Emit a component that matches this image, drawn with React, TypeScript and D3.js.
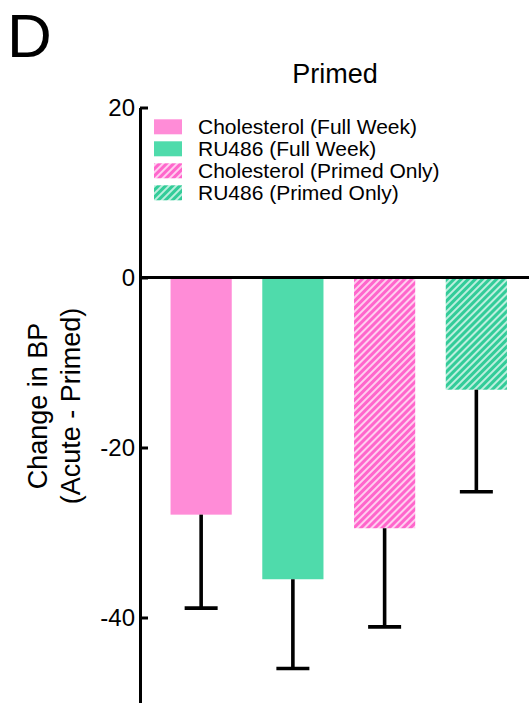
import React from "react";
import * as d3 from "d3";

const categories = [
  "Cholesterol (Full Week)",
  "RU486 (Full Week)",
  "Cholesterol (Primed Only)",
  "RU486 (Primed Only)",
];
const means = [-27.9, -35.5, -29.5, -13.2];
const sems = [11.0, 10.5, 11.6, 12.0];
const hatched = [false, false, true, true];
const tickValues = [20, 0, -20, -40];

const W = 529;
const H = 712;
const FONT = "'Liberation Sans', Arial, Helvetica, sans-serif";
const solidColors = ["#FF8CD7", "#4FDBAB", "#FF8CD7", "#4FDBAB"];
const hatchColors = ["#FF66CC", "#33CC99", "#FF66CC", "#33CC99"];

export default function App() {
  const y = d3.scaleLinear().domain([-50, 20]).range([702.5, 107.5]);
  const x = d3
    .scaleBand<string>()
    .domain(categories)
    .range([140, 537.5])
    .paddingInner(0.333)
    .paddingOuter(0.333);
  const axisRef = React.useRef<SVGGElement>(null);

  React.useEffect(() => {
    if (!axisRef.current) return;
    const g = d3.select(axisRef.current);
    g.selectAll("*").remove();
    g.call(
      d3
        .axisLeft(y)
        .tickValues(tickValues)
        .tickSizeInner(-8)
        .tickSizeOuter(0)
        .tickPadding(5)
        .tickFormat((d) => String(d))
    );
    g.select(".domain").attr("stroke", "#000").attr("stroke-width", 3);
    g.selectAll(".tick line").attr("stroke", "#000").attr("stroke-width", 3);
    g.selectAll(".tick text")
      .attr("fill", "#000")
      .style("font-family", FONT)
      .style("font-size", "24px");
  }, []);

  const patId = (i: number) => `hatch-${i}`;
  const bw = x.bandwidth();
  const capW = 33;

  return (
    <svg
      width={W}
      height={H}
      style={{ position: "absolute", left: 0, top: 0, background: "#fff" }}
    >
      <defs>
        {categories.map((c, i) => (
          <pattern
            key={c}
            id={patId(i)}
            patternUnits="userSpaceOnUse"
            width={5}
            height={5}
            patternTransform="rotate(45)"
          >
            <rect x={0} y={0} width={5} height={5} fill={hatchColors[i]} />
            <line x1={1} y1={-1} x2={1} y2={6} stroke="#fff" strokeOpacity={0.85} strokeWidth={1.6} />
          </pattern>
        ))}
      </defs>
      <rect x={0} y={0} width={W} height={H} fill="#fff" />

      <text x={7} y={56.5} fontFamily={FONT} fontSize={62} fill="#000">
        D
      </text>
      <text x={335} y={82.5} textAnchor="middle" fontFamily={FONT} fontSize={27} fill="#000">
        Primed
      </text>

      <g transform="translate(47,406) rotate(-90)">
        <text x={0} y={0} textAnchor="middle" fontFamily={FONT} fontSize={27} fill="#000">
          Change in BP
        </text>
      </g>
      <g transform="translate(80,406) rotate(-90)">
        <text x={0} y={0} textAnchor="middle" fontFamily={FONT} fontSize={27} fill="#000">
          (Acute - Primed)
        </text>
      </g>

      {categories.map((c, i) => {
        const x0 = x(c)!;
        const y0 = y(0);
        const y1 = y(means[i]);
        return (
          <rect
            key={c}
            x={x0}
            y={Math.min(y0, y1)}
            width={bw}
            height={Math.abs(y1 - y0)}
            fill={hatched[i] ? `url(#${patId(i)})` : solidColors[i]}
          />
        );
      })}

      {categories.map((c, i) => {
        const cx = x(c)! + bw / 2;
        const y1 = y(means[i]);
        const y2 = y(means[i] - sems[i]);
        return (
          <g key={c} stroke="#000" strokeWidth={3.6}>
            <line x1={cx} x2={cx} y1={y1} y2={y2} />
            <line x1={cx - capW / 2} x2={cx + capW / 2} y1={y2} y2={y2} />
          </g>
        );
      })}

      <g ref={axisRef} transform="translate(140,0)" />
      <line x1={140} x2={W} y1={y(0)} y2={y(0)} stroke="#000" strokeWidth={3} />

      {categories.map((c, i) => {
        const ry = 119.3 + i * 22;
        return (
          <g key={c}>
            <rect
              x={154}
              y={ry}
              width={28}
              height={15}
              fill={hatched[i] ? `url(#${patId(i)})` : solidColors[i]}
            />
            <text x={198} y={ry + 14.8} fontFamily={FONT} fontSize={21} fill="#000">
              {c}
            </text>
          </g>
        );
      })}
    </svg>
  );
}
